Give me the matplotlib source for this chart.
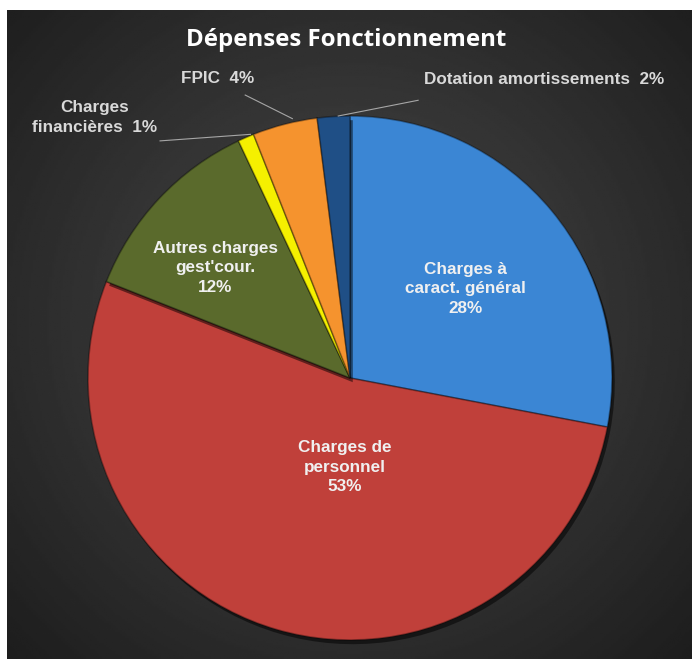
import numpy as np
import matplotlib.pyplot as plt
import matplotlib.patheffects as pe

# data
labels = ["Charges à\ncaract. général", "Charges de\npersonnel", "Autres charges\ngest'cour.",
          "Charges\nfinancières", "FPIC", "Dotation amortissements"]
values = [28, 53, 12, 1, 4, 2]
colors = ["#3b86d4", "#c0403a", "#5a6a2c", "#f5f000", "#f5932e", "#1f4f86"]

fig = plt.figure(figsize=(6.92, 6.59), dpi=100)
fig.patch.set_facecolor("white")

# dark radial background
bg = fig.add_axes([7 / 692, 0, 685 / 692, 649 / 659])
yy, xx = np.mgrid[0:1:300j, 0:1:300j]
d = np.sqrt((xx - 0.5) ** 2 + ((yy - 0.52) * 0.95) ** 2)
bg.imshow(0.29 - 0.25 * d, cmap="gray", vmin=0, vmax=1, extent=[0, 1, 0, 1],
          aspect="auto", origin="lower")
bg.axis("off")

fig.text(0.5, 1 - 40 / 659, "Dépenses Fonctionnement", ha="center", va="center",
         color="white", fontsize=17.3, fontweight="bold", family="Open Sans")

# pie axes
R = 262
cx, cy = 350, 378
ax = fig.add_axes([(cx - R) / 692, (659 - cy - R) / 659, 2 * R / 692, 2 * R / 659])
wedges, _ = ax.pie(values, colors=colors, startangle=90, counterclock=False,
                   wedgeprops=dict(edgecolor="#00000055", linewidth=1.2))
for w in wedges:
    w.set_path_effects([pe.SimplePatchShadow(offset=(2, -3), shadow_rgbFace="black", alpha=0.5),
                        pe.Normal()])
ax.set_xlim(-1, 1)
ax.set_ylim(-1, 1)
ax.axis("off")

lab_font = dict(family="Liberation Sans", fontweight="bold", fontsize=12.3, linespacing=1.38)

# inside labels
inside = {0: (0.44, 0.34), 1: (-0.02, -0.34), 2: (-0.515, 0.42)}
for i, (x, y) in inside.items():
    ax.text(x, y, f"{labels[i]}\n{values[i]}%", ha="center", va="center",
            color="#f0f0f0", **lab_font)

# outside labels with leader lines
outside = {
    3: ((-0.38, 0.93), (-0.725, 0.905), (-0.975, 0.995)),
    4: ((-0.22, 0.99), (-0.40, 1.08), (-0.505, 1.145)),
    5: ((-0.045, 1.0), (0.26, 1.06), (0.74, 1.138)),
}
for i, (p0, p1, pt) in outside.items():
    ax.plot([p0[0], p1[0]], [p0[1], p1[1]], color="#a6a6a6", lw=0.8, clip_on=False)
    ax.text(pt[0], pt[1], f"{labels[i]}  {values[i]}%", ha="center", va="center",
            color="#d9d9d9", clip_on=False, **lab_font)

fig.savefig("out.png", dpi=100, facecolor=fig.get_facecolor())
